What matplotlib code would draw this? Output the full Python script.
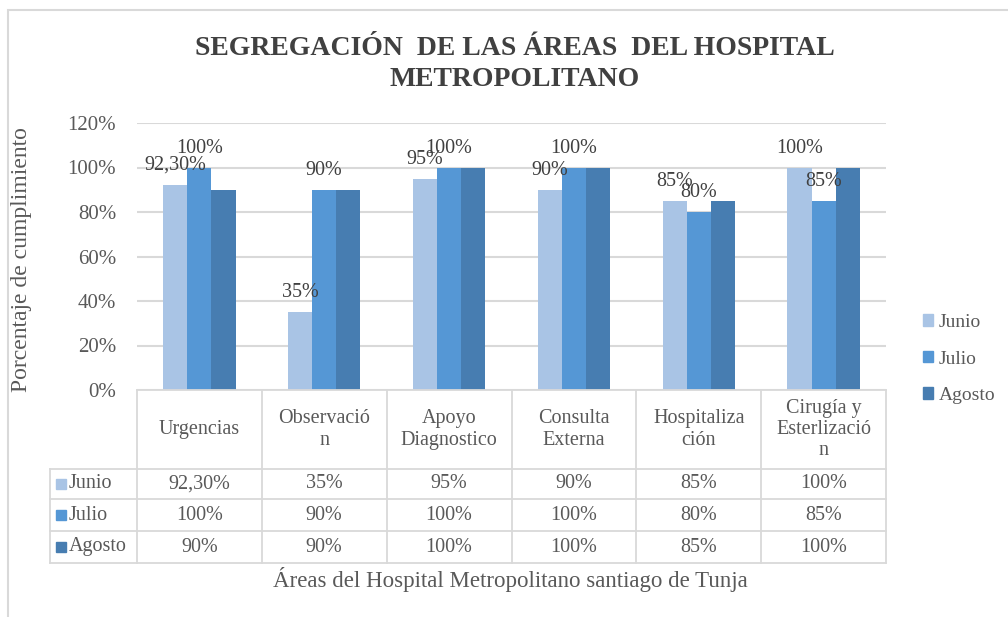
import matplotlib
matplotlib.use("Agg")
import matplotlib.pyplot as plt
from matplotlib.patches import Rectangle

# ---- data ----
categories = ["Urgencias", "Observació\nn", "Apoyo\nDiagnostico", "Consulta\nExterna",
              "Hospitaliza\nción", "Cirugía y\nEsterlizació\nn"]
series_names = ["Junio", "Julio", "Agosto"]
junio = [0.923, 0.35, 0.95, 0.90, 0.85, 1.00]
julio = [1.00, 0.90, 1.00, 1.00, 0.80, 0.85]
agosto = [0.90, 0.90, 1.00, 1.00, 0.85, 1.00]
junio_txt = ["92,30%", "35%", "95%", "90%", "85%", "100%"]
julio_txt = ["100%", "90%", "100%", "100%", "80%", "85%"]
agosto_txt = ["90%", "90%", "100%", "100%", "85%", "100%"]
yticks = [0, 0.2, 0.4, 0.6, 0.8, 1.0, 1.2]
ytick_labels = ["0%", "20%", "40%", "60%", "80%", "100%", "120%"]
title = "SEGREGACIÓN  DE LAS ÁREAS  DEL HOSPITAL\nMETROPOLITANO"
ylabel = "Porcentaje de cumplimiento"
xlabel = "Áreas del Hospital Metropolitano santiago de Tunja"

colors = ["#A9C4E5", "#5597D5", "#477DB1"]
txt_col = "#595959"
grid_col = "#D9D9D9"

plt.rcParams['font.family'] = ['Liberation Serif', 'DejaVu Serif']

W, H = 1008, 617
fig = plt.figure(figsize=(W / 100, H / 100), dpi=100)

def fx(px):
    return px / W

def fy(py):
    return 1 - py / H

# outer frame
fig.patches.append(Rectangle((fx(8), fy(640)), fx(1030) - fx(8), fy(10) - fy(640),
                             transform=fig.transFigure, fill=False, edgecolor=grid_col,
                             linewidth=1.5))

# main axes
ax_w = fx(886) - fx(137)
ax = fig.add_axes([fx(137), fy(390), ax_w, fy(123) - fy(390)])
n = len(categories)
x = list(range(n))
bw = 0.193
all_vals = [junio, julio, agosto]
for i, (vals, name) in enumerate(zip(all_vals, series_names)):
    xs = [xi + (i - 1) * bw for xi in x]
    ax.bar(xs, vals, width=bw, color=colors[i], label=name, zorder=3)
    if i < 2:
        lab = junio_txt if i == 0 else julio_txt
        for xi, v, t in zip(xs, vals, lab):
            ax.annotate(t, (xi, v), xytext=(0, 7), textcoords="offset points",
                        ha="center", va="bottom", fontsize=14.5, color="#404040", zorder=4)

ax.set_xlim(-0.5, n - 0.5)
ax.set_ylim(0, 1.2)
ax.set_yticks(yticks)
ax.set_yticklabels(ytick_labels, fontsize=15, color=txt_col)
ax.tick_params(axis="y", length=0, pad=15)
ax.set_xticks([])
ax.yaxis.grid(True, color=grid_col, linewidth=1.5, zorder=0)
for s in ax.spines.values():
    s.set_visible(False)
ax.set_ylabel(ylabel, fontsize=17, color=txt_col)
ax.yaxis.set_label_coords((fx(32) - fx(137)) / ax_w, 0.49)

# legend
handles = [Rectangle((0, 0), 1, 1, color=c) for c in colors]
fig.legend(handles, series_names, loc="center left", bbox_to_anchor=(fx(905), fy(359)),
           frameon=False, fontsize=14, handlelength=0.55, handleheight=0.55,
           handletextpad=0.3, labelspacing=1.0, labelcolor=txt_col)

# title
fig.text(fx(515), fy(64), title, ha="center", va="center", fontsize=20,
         fontweight="bold", color="#404040", linespacing=1.35)

# data table
tax = fig.add_axes([fx(137), fy(563), ax_w, fy(390) - fy(563)])
tax.set_xlim(-0.5, n - 0.5)
tax.set_ylim(173, 0)
tax.axis("off")
xl = -0.5 - (137 - 50) / 124.8
row_y = [0, 79, 109, 141, 173]
lw = 1.3
tax.plot([-0.5, n - 0.5], [0, 0], color=grid_col, lw=lw, clip_on=False)
for yy in row_y[1:]:
    tax.plot([xl, n - 0.5], [yy, yy], color=grid_col, lw=lw, clip_on=False)
for k in range(n + 1):
    tax.plot([k - 0.5, k - 0.5], [0, 173], color=grid_col, lw=lw, clip_on=False)
tax.plot([xl, xl], [79, 173], color=grid_col, lw=lw, clip_on=False)

for k, c in enumerate(categories):
    tax.text(k, 39.5, c, ha="center", va="center", fontsize=14.5, color=txt_col,
             linespacing=1.15)
texts = [junio_txt, julio_txt, agosto_txt]
for r in range(3):
    yc = (row_y[r + 1] + row_y[r + 2]) / 2
    tax.plot([xl + 0.09], [yc], marker="s", markersize=7, color=colors[r],
             clip_on=False, linestyle="none")
    tax.text(xl + 0.15, yc, series_names[r], ha="left", va="center", fontsize=14.5,
             color=txt_col)
    for k in range(n):
        tax.text(k, yc, texts[r][k], ha="center", va="center", fontsize=14.5, color=txt_col)

fig.text(fx(510), fy(580), xlabel, ha="center", va="center", fontsize=16.5, color=txt_col)

fig.savefig("out.png", dpi=100)
